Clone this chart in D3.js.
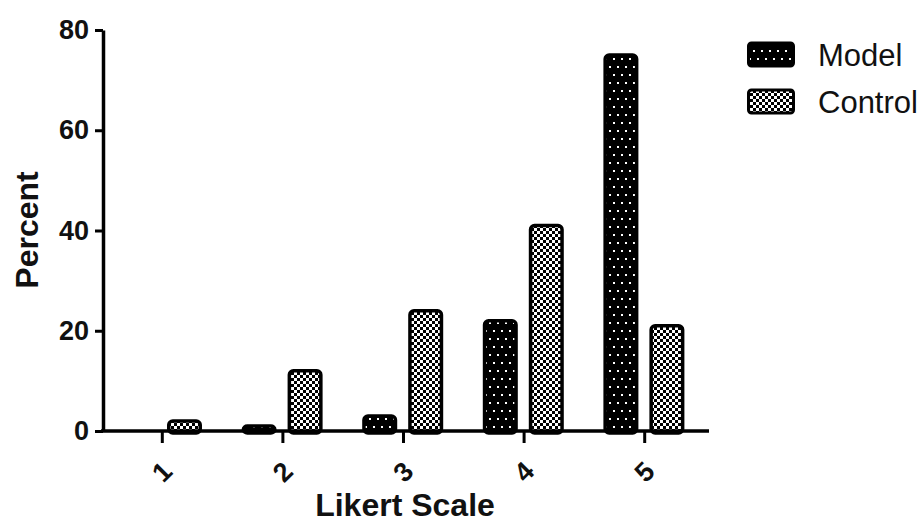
<!DOCTYPE html>
<html><head><meta charset="utf-8">
<script src="https://cdn.jsdelivr.net/npm/d3@7"></script>
<style>body{margin:0;background:#fff}svg{display:block}text{font-family:"Liberation Sans",Arial,sans-serif}</style>
</head><body>
<svg id="c" width="923" height="523"></svg>
<script>
const categories = ["1","2","3","4","5"];
const seriesNames = ["Model","Control"];
const modelValues = [0, 1, 3, 22, 75];
const controlValues = [2, 12, 24, 41, 21];
const yTicks = [0, 20, 40, 60, 80];

const svg = d3.select("#c");
const defs = svg.append("defs");
// dotted pattern
const pd = defs.append("pattern").attr("id","dots").attr("patternUnits","userSpaceOnUse").attr("width",8).attr("height",16);
pd.append("rect").attr("width",8).attr("height",16).attr("fill","#000");
pd.append("rect").attr("x",1).attr("y",2).attr("width",2).attr("height",2).attr("fill","#fff");
pd.append("rect").attr("x",5).attr("y",10).attr("width",2).attr("height",2).attr("fill","#fff");
// checker pattern
const pc = defs.append("pattern").attr("id","check").attr("patternUnits","userSpaceOnUse").attr("width",6).attr("height",6);
pc.append("rect").attr("width",6).attr("height",6).attr("fill","#000");
pc.append("rect").attr("x",0).attr("y",0).attr("width",3).attr("height",3).attr("fill","#fff");
pc.append("rect").attr("x",3).attr("y",3).attr("width",3).attr("height",3).attr("fill","#fff");

const fills = {Model:"url(#dots)", Control:"url(#check)"};

const x = d3.scaleBand().domain(categories).range([102, 705]).paddingInner(0).paddingOuter(0);
const xi = d3.scaleBand().domain(seriesNames).range([19, 100]).paddingInner(0.239).paddingOuter(0);
const y = d3.scaleLinear().domain([0, 80]).range([431, 30]);

const data = categories.map((c,i)=>({cat:c, vals:[{s:"Model", v:modelValues[i]},{s:"Control", v:controlValues[i]}]}));

const g = svg.append("g");
data.forEach(d=>{
  d.vals.forEach(b=>{
    if (b.v <= 0) return;
    const bx = x(d.cat) + xi(b.s) + 1.75;
    const bw = xi.bandwidth() - 3.5;
    g.append("rect")
      .attr("x", bx).attr("y", y(b.v))
      .attr("width", bw).attr("height", y(0) - y(b.v) + 2)
      .attr("rx", 4).attr("ry", 4)
      .attr("fill", fills[b.s]).attr("stroke","#000").attr("stroke-width",3.5);
  });
});

// Y axis
const yAxis = d3.axisLeft(y).tickValues(yTicks).tickSize(8).tickPadding(6).tickSizeOuter(0);
const ya = svg.append("g").attr("transform","translate(103,0)").call(yAxis);
ya.select(".domain").attr("stroke","#000").attr("stroke-width",3.5);
ya.selectAll(".tick line").attr("stroke","#000").attr("stroke-width",3);
ya.selectAll(".tick text").attr("font-size",27).attr("font-weight","bold").attr("fill","#111")
  .attr("font-family","'Liberation Sans',Arial,sans-serif");

// X axis
const xAxis = d3.axisBottom(x).tickSize(12).tickSizeOuter(0);
const xa = svg.append("g").attr("transform","translate(0,431)").call(xAxis);
xa.select(".domain").remove();
xa.append("line").attr("x1",101).attr("x2",709).attr("y1",0).attr("y2",0).attr("stroke","#000").attr("stroke-width",3.5);
xa.selectAll(".tick line").attr("stroke","#000").attr("stroke-width",3);
xa.selectAll(".tick text")
  .attr("font-size",27).attr("font-weight","bold").attr("fill","#111")
  .attr("font-family","'Liberation Sans',Arial,sans-serif")
  .attr("text-anchor","middle").attr("dy",null).attr("y",0)
  .attr("transform","translate(0,41) rotate(-45) translate(0,9)");

// axis titles
svg.append("text").attr("x",405).attr("y",516).attr("text-anchor","middle")
  .attr("font-size",32).attr("font-weight","bold").attr("fill","#111").text("Likert Scale");
svg.append("text").attr("transform","translate(38,230) rotate(-90)").attr("text-anchor","middle")
  .attr("font-size",32).attr("font-weight","bold").attr("fill","#111").text("Percent");

// legend
const leg = svg.append("g");
seriesNames.forEach((s,i)=>{
  const ly = 43 + i*47;
  leg.append("rect").attr("x",748.5).attr("y",ly).attr("width",45).attr("height",23)
    .attr("rx",3).attr("fill",fills[s]).attr("stroke","#000").attr("stroke-width",3);
  leg.append("text").attr("x",818).attr("y",ly+23).attr("font-size",31).attr("fill","#111").text(s);
});
</script>
</body></html>
